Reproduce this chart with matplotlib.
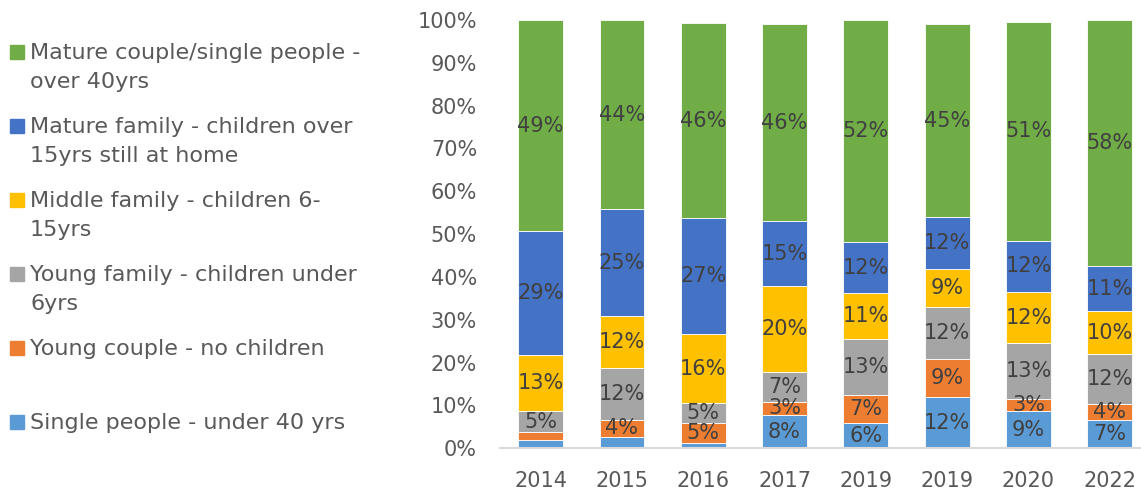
import matplotlib
matplotlib.use("Agg")
import matplotlib.pyplot as plt
from matplotlib.patches import Rectangle
import numpy as np

# Data (percent of households), bottom segment first
years = ["2014", "2015", "2016", "2017", "2019", "2019", "2020", "2022"]
single_people = [1.9, 2.6, 1.3, 7.8, 5.8, 11.9, 8.6, 6.5]
young_couple = [1.8, 4.1, 4.6, 3.1, 6.6, 8.9, 2.9, 3.9]
young_family = [5.0, 12.0, 4.6, 6.9, 13.2, 12.2, 13.0, 11.6]
middle_family = [13.0, 12.1, 16.2, 20.0, 10.6, 8.9, 12.0, 10.0]
mature_family = [29.0, 25.0, 27.0, 15.2, 12.0, 12.1, 12.0, 10.5]
mature_couple = [49.3, 44.1, 45.6, 46.0, 51.8, 45.0, 51.0, 57.6]

series = [
    ("Single people - under 40 yrs", single_people, "#5B9BD5"),
    ("Young couple - no children", young_couple, "#ED7D31"),
    ("Young family - children under\n6yrs", young_family, "#A5A5A5"),
    ("Middle family - children 6-\n15yrs", middle_family, "#FFC000"),
    ("Mature family - children over\n15yrs still at home", mature_family, "#4472C4"),
    ("Mature couple/single people -\nover 40yrs", mature_couple, "#70AD47"),
]

W, H = 1141, 494
fig = plt.figure(figsize=(W / 100, H / 100), dpi=100)
plt.rcParams["font.family"] = "DejaVu Sans"

ax = fig.add_axes([500 / W, 45.7 / H, 641 / W, 428.3 / H])
x = np.arange(len(years))
bottom = np.zeros(len(years))
for name, vals, color in series:
    vals = np.array(vals)
    ax.bar(x, vals, 0.55, bottom=bottom, color=color, edgecolor="white", linewidth=0.6)
    for xi, b, v in zip(x, bottom, vals):
        if v >= 2.8:
            ax.text(xi, b + v / 2, f"{int(v + 0.5)}%", ha="center", va="center",
                    fontsize=15, color="#404040")
    bottom += vals

ax.set_xlim(-0.5, -0.5 + 641 / 81.3)
ax.set_ylim(0, 100)
ax.set_xticks(x)
ax.set_xticklabels(years)
ax.set_yticks(range(0, 101, 10))
ax.set_yticklabels([f"{v}%" for v in range(0, 101, 10)])
ax.tick_params(axis="both", length=0, labelsize=15, colors="#595959")
ax.tick_params(axis="y", pad=16.5)
ax.tick_params(axis="x", pad=16.5)
for s in ["top", "right", "left"]:
    ax.spines[s].set_visible(False)
ax.spines["bottom"].set_color("#D9D9D9")
ax.spines["bottom"].set_linewidth(1.5)

# Legend drawn by hand, top entry = top segment
marker_y = [52, 126, 200, 274, 348, 422]
for (name, vals, color), my in zip(series[::-1], marker_y):
    fig.patches.append(Rectangle((10 / W, 1 - (my + 7) / H), 14 / W, 14 / H,
                                 transform=fig.transFigure, color=color))
    for i, line in enumerate(name.split("\n")):
        fig.text(30 / W, 1 - (my + 7 + i * 29) / H, line, ha="left", va="baseline",
                 fontsize=16, color="#595959")

fig.savefig("out.png", dpi=100)
